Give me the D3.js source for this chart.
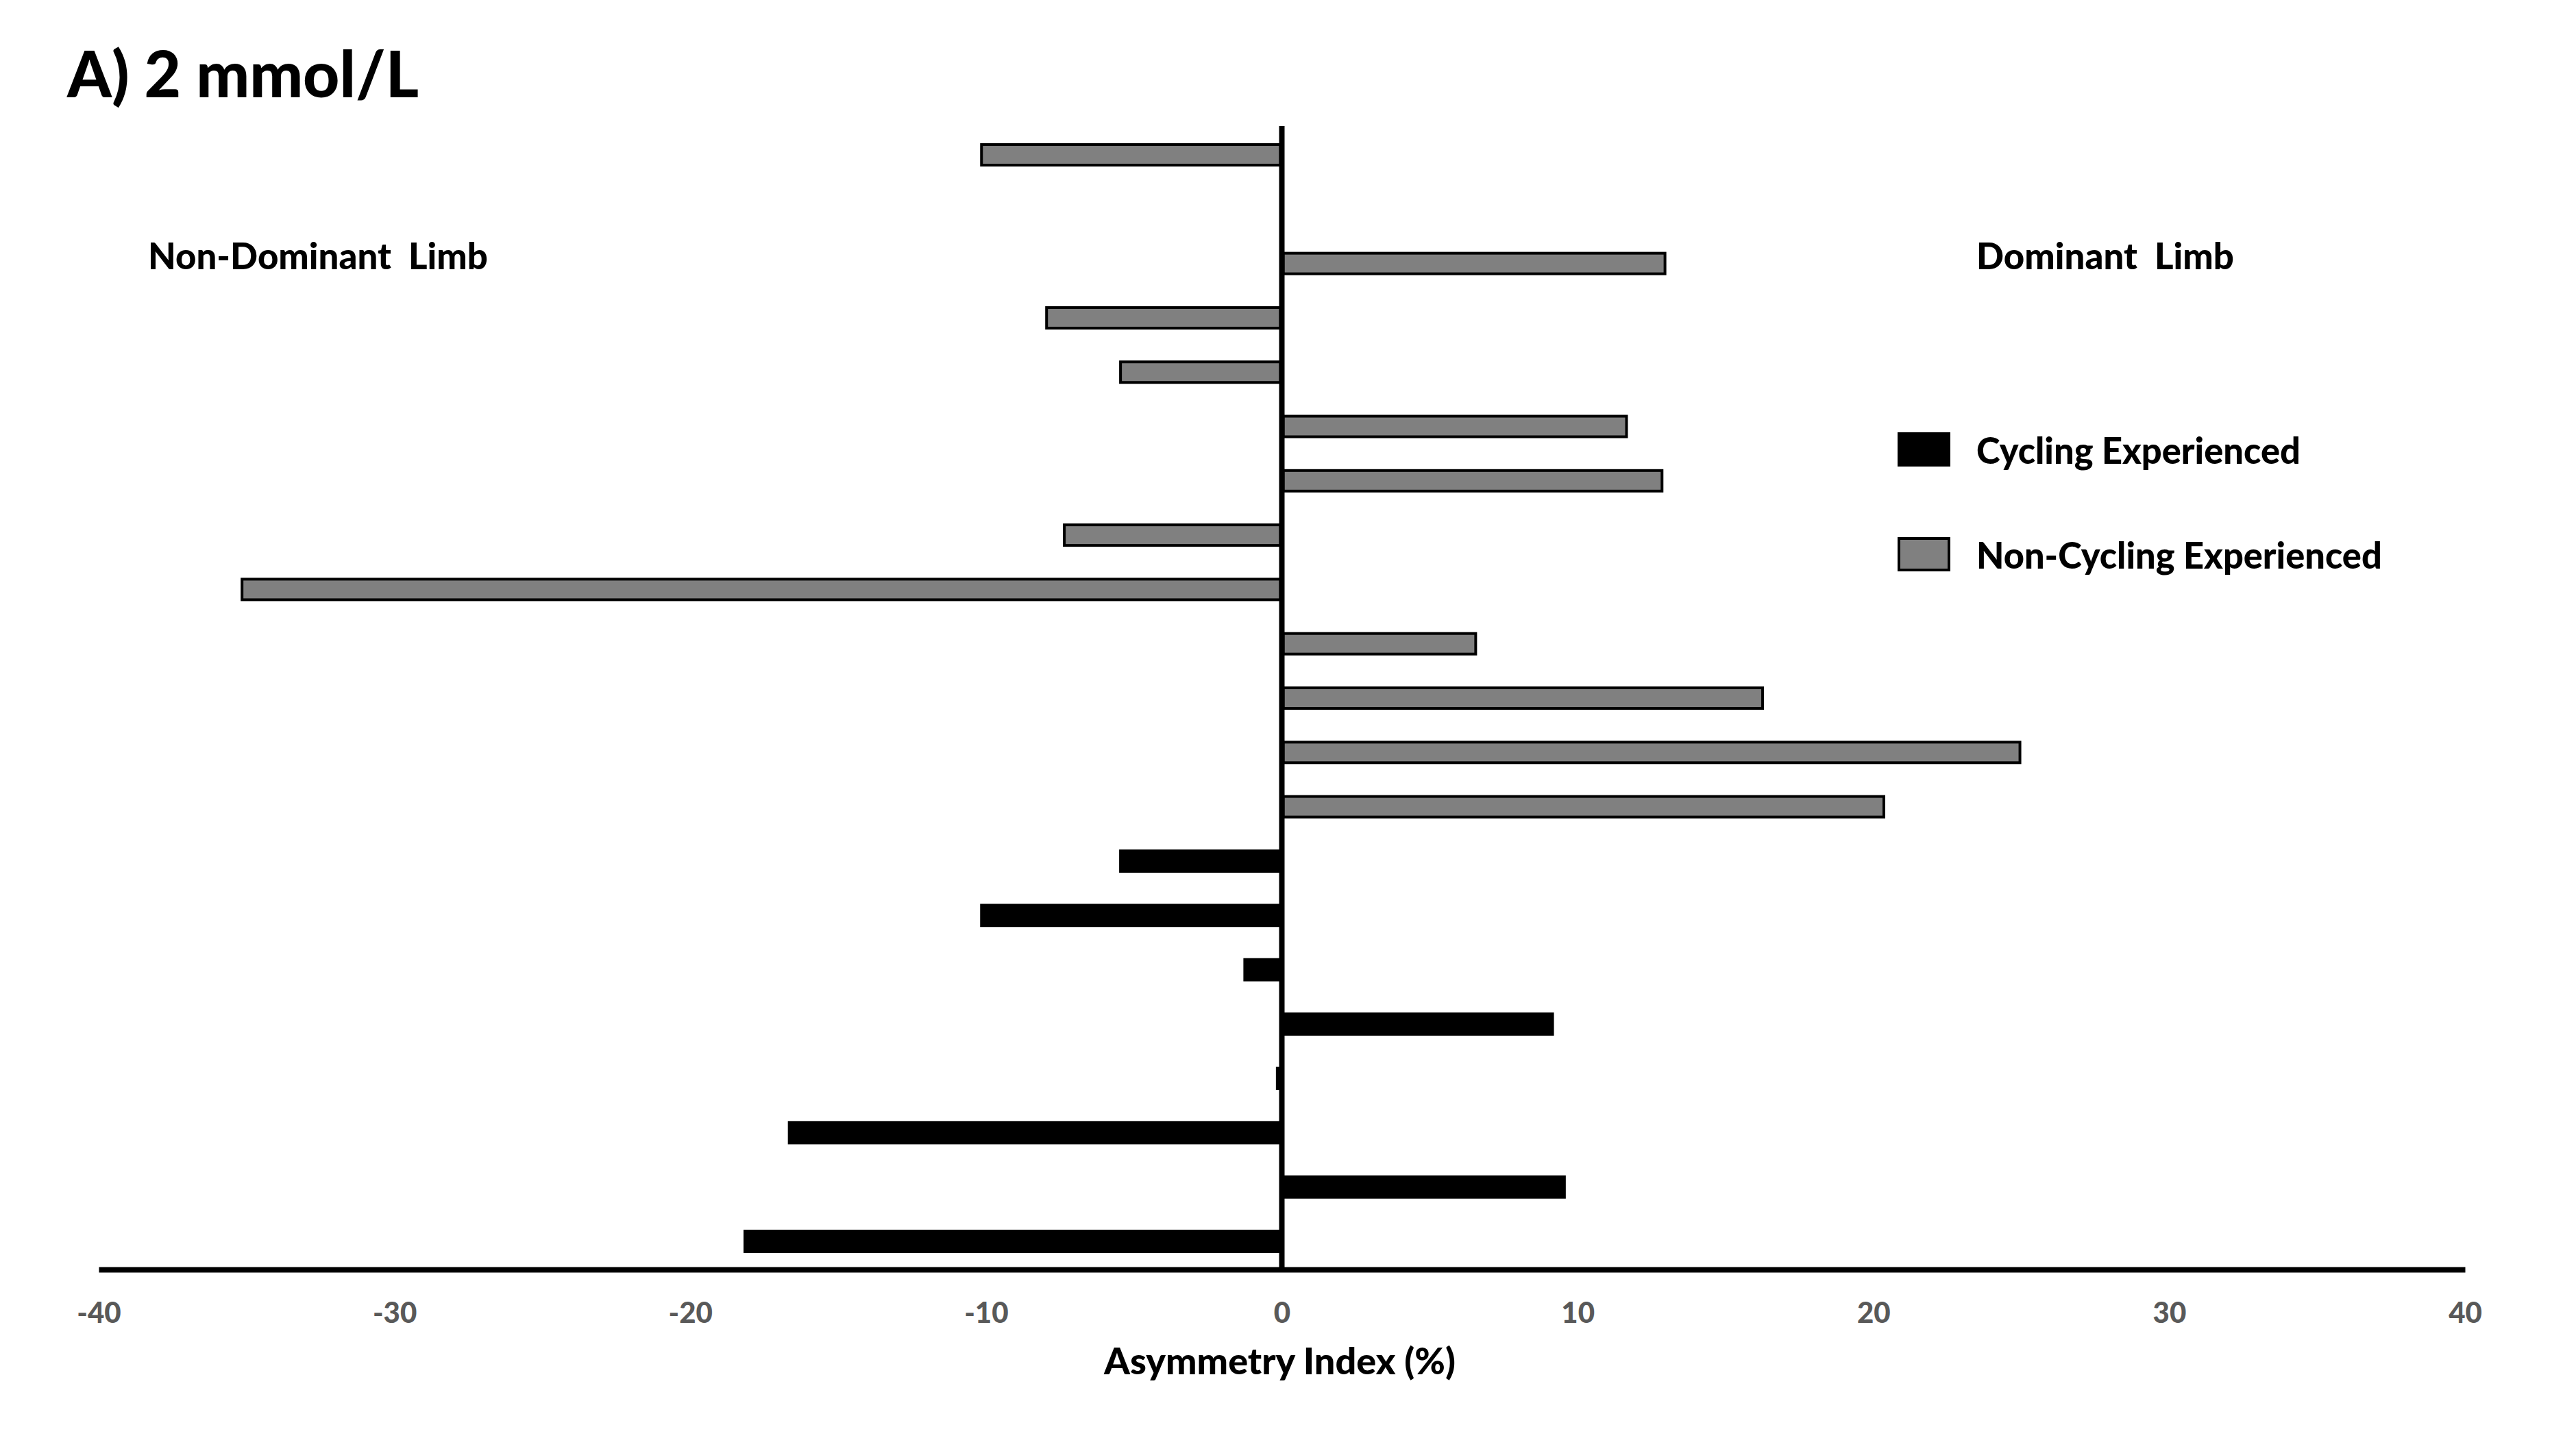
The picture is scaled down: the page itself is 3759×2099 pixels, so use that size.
<!DOCTYPE html>
<html>
<head>
<meta charset="utf-8">
<script src="https://cdn.jsdelivr.net/npm/d3@7"></script>
<style>
  html, body { margin: 0; padding: 0; background: #fff; }
  svg { display: block; }
  text { font-family: Lato, "Open Sans", sans-serif; font-weight: 900; }
</style>
</head>
<body>
<svg id="chart" width="3759" height="2099"></svg>
<script>
// ---- data ----
const nonCyclingValues = [-10.2, null, 13.0, -8.0, -5.5, 11.7, 12.9, -7.4, -35.2, 6.6, 16.3, 25.0, 20.4];
const cyclingValues = [-5.5, -10.2, -1.3, 9.2, -0.2, -16.7, 9.6, -18.2];
const groupNames = ["Cycling Experienced", "Non-Cycling Experienced"];
const groupColors = ["#000000", "#808080"];
const xTicks = [-40, -30, -20, -10, 0, 10, 20, 30, 40];
const chartTitle = "A) 2 mmol/L";
const xTitle = "Asymmetry Index (%)";
const leftLabel = "Non-Dominant  Limb";
const rightLabel = "Dominant  Limb";

// build rows
const rows = [];
nonCyclingValues.forEach((v, i) => rows.push({ id: "N" + (i + 1), group: groupNames[1], value: v }));
cyclingValues.forEach((v, i) => rows.push({ id: "C" + (i + 1), group: groupNames[0], value: v }));

const svg = d3.select("#chart");

const x = d3.scaleLinear().domain([-40, 40]).range([144, 3597]);
const y = d3.scaleBand().domain(rows.map(d => d.id)).range([186.4, 1851.6])
  .paddingInner(0.571).paddingOuter(0.2855);
const color = d3.scaleOrdinal().domain(groupNames).range(groupColors);

// fit text to target width
function fit(sel, target) {
  const w = sel.node().getComputedTextLength();
  const fs = parseFloat(sel.attr("font-size"));
  sel.attr("font-size", fs * target / w);
  return sel;
}

// bars
const bw = y.bandwidth();
svg.append("g").selectAll("rect")
  .data(rows.filter(d => d.value !== null))
  .join("rect")
  .attr("x", d => x(Math.min(0, d.value)) + (d.group === groupNames[1] ? 2 : 0))
  .attr("y", d => y(d.id) + (d.group === groupNames[1] ? 2 : 0))
  .attr("width", d => Math.max(0, Math.abs(x(d.value) - x(0)) - (d.group === groupNames[1] ? 4 : 0)))
  .attr("height", d => bw - (d.group === groupNames[1] ? 4 : 0))
  .attr("fill", d => color(d.group))
  .attr("stroke", d => d.group === groupNames[1] ? "#000" : "none")
  .attr("stroke-width", 4);

// vertical zero line
svg.append("line")
  .attr("x1", x(0)).attr("x2", x(0))
  .attr("y1", 184).attr("y2", 1853)
  .attr("stroke", "#000").attr("stroke-width", 8);

// x axis
const axisG = svg.append("g")
  .attr("transform", "translate(0,1853)")
  .call(d3.axisBottom(x).tickValues(xTicks).tickFormat(d => String(d))
    .tickSize(0).tickPadding(48).tickSizeOuter(0));
axisG.select(".domain").attr("stroke", "#000").attr("stroke-width", 8);
axisG.selectAll(".tick text")
  .attr("fill", "#595959")
  .attr("font-size", 42)
  .style("font-family", "Lato, sans-serif")
  .style("font-weight", 900);

// axis title
fit(svg.append("text")
  .attr("x", (1611 + 2124) / 2).attr("y", 1985)
  .attr("text-anchor", "middle").attr("dominant-baseline", "central")
  .attr("font-size", 48).attr("fill", "#000")
  .text(xTitle), 513);

// chart title
fit(svg.append("text")
  .attr("x", 98).attr("y", 142)
  .attr("font-size", 90).attr("fill", "#000")
  .text(chartTitle), 513);

// side labels
fit(svg.append("text")
  .attr("x", 216).attr("y", 372)
  .attr("dominant-baseline", "central")
  .attr("font-size", 48).attr("fill", "#000")
  .style("white-space", "pre")
  .text(leftLabel), 496);
fit(svg.append("text")
  .attr("x", 2884).attr("y", 372)
  .attr("dominant-baseline", "central")
  .attr("font-size", 48).attr("fill", "#000")
  .style("white-space", "pre")
  .text(rightLabel), 376);

// legend
const legendY = [656, 809];
const legendW = [473, 592];
groupNames.forEach((g, i) => {
  const isGray = i === 1;
  svg.append("rect")
    .attr("x", 2769 + (isGray ? 2 : 0)).attr("y", legendY[i] - 25 + (isGray ? 2 : 0))
    .attr("width", 77 - (isGray ? 4 : 0)).attr("height", 50 - (isGray ? 4 : 0))
    .attr("fill", color(g))
    .attr("stroke", isGray ? "#000" : "none").attr("stroke-width", 4);
  fit(svg.append("text")
    .attr("x", 2884).attr("y", legendY[i])
    .attr("dominant-baseline", "central")
    .attr("font-size", 48).attr("fill", "#000")
    .text(g), legendW[i]);
});
</script>
</body>
</html>
